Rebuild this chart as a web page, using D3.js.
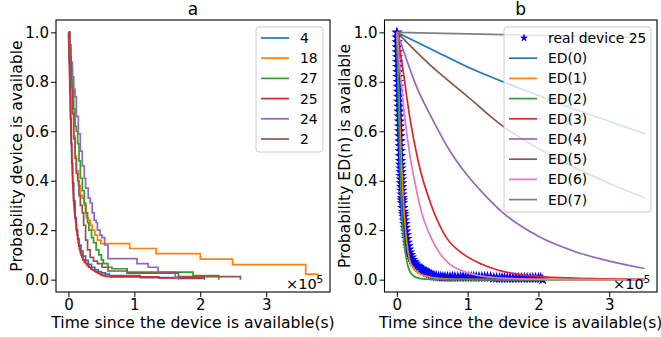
<!DOCTYPE html>
<html>
<head>
<meta charset="utf-8">
<script src="https://cdnjs.cloudflare.com/ajax/libs/d3/7.8.5/d3.min.js"></script>
<style>
  body { margin: 0; background: #fff; }
  svg { font-family: "DejaVu Sans", sans-serif; }
</style>
</head>
<body>
<div id="chart"></div>
<script>
// ---- data (time in units of 1e5 s, probability) ----
const xTicks = [0, 1, 2, 3];
const yTicks = [0, 0.2, 0.4, 0.6, 0.8, 1.0];

// panel a: empirical availability per device
const devicesA = ["4", "18", "27", "25", "24", "2"];

const dev4T = [0, 0.01, 0.02, 0.03, 0.04, 0.05, 0.065, 0.08, 0.1, 0.12, 0.14, 0.16, 0.19, 0.22, 0.26, 0.3, 0.35, 0.4, 0.45, 0.5, 0.56, 0.62, 1.09, 1.67, 2.03];
const dev4P = [1.0, 0.88, 0.76, 0.65, 0.55, 0.47, 0.39, 0.32, 0.25, 0.2, 0.165, 0.14, 0.115, 0.095, 0.078, 0.062, 0.05, 0.04, 0.033, 0.027, 0.022, 0.016, 0.008, 0.005, 0.005];

const dev18T = [0, 0.02, 0.04, 0.06, 0.08, 0.1, 0.12, 0.15, 0.18, 0.21, 0.24, 0.27, 0.3, 0.33, 0.36, 0.4, 0.44, 0.49, 0.93, 1.33, 2.0, 2.49, 3.6, 3.78];
const dev18P = [1.0, 0.92, 0.8, 0.68, 0.58, 0.5, 0.44, 0.38, 0.34, 0.33, 0.3, 0.25, 0.24, 0.22, 0.2, 0.18, 0.16, 0.146, 0.126, 0.105, 0.083, 0.061, 0.022, 0.0];

const dev27T = [0, 0.02, 0.04, 0.06, 0.08, 0.1, 0.12, 0.14, 0.16, 0.18, 0.21, 0.24, 0.26, 0.29, 0.31, 0.35, 0.38, 0.42, 0.46, 0.5, 0.53, 0.6, 0.66, 0.89, 1.89, 2.28];
const dev27P = [1.0, 0.93, 0.85, 0.77, 0.69, 0.62, 0.6, 0.55, 0.48, 0.41, 0.36, 0.31, 0.27, 0.23, 0.2, 0.17, 0.15, 0.12, 0.1, 0.08, 0.065, 0.05, 0.044, 0.03, 0.016, 0.0];

// device 25 is shared by both panels
const dev25T = [0, 0.002, 0.004, 0.006, 0.008, 0.01, 0.012, 0.014, 0.016, 0.018, 0.02, 0.022, 0.024, 0.026, 0.028, 0.03, 0.032, 0.034, 0.036, 0.038, 0.04,
  0.042, 0.044, 0.046, 0.048, 0.05, 0.052, 0.054, 0.056, 0.058, 0.06, 0.0625, 0.065, 0.0675, 0.07, 0.0725, 0.075, 0.0775, 0.08,
  0.085, 0.09, 0.095, 0.1, 0.106, 0.112, 0.118, 0.125, 0.132, 0.14, 0.148, 0.157, 0.167, 0.178, 0.19, 0.205, 0.22, 0.24, 0.26, 0.285, 0.31,
  0.34, 0.36, 0.38, 0.4, 0.42, 0.44, 0.46, 0.485, 0.51, 0.535, 0.56, 0.59, 0.62, 0.65, 0.68, 0.715, 0.75, 0.785, 0.82, 0.86, 0.9, 0.935, 0.97,
  1.01, 1.05, 1.085, 1.12, 1.16, 1.2, 1.24, 1.28, 1.325, 1.37, 1.41, 1.45, 1.485, 1.52, 1.56, 1.6, 1.64, 1.68, 1.72, 1.76, 1.8, 1.84, 1.88, 1.92, 1.96, 2.0, 2.03, 2.06];
const dev25P = [1.0, 0.98, 0.96, 0.94, 0.92, 0.9, 0.88, 0.86, 0.84, 0.82, 0.8, 0.78, 0.76, 0.74, 0.72, 0.7, 0.68, 0.66, 0.64, 0.62, 0.6,
  0.58, 0.56, 0.54, 0.52, 0.5, 0.48, 0.465, 0.45, 0.435, 0.42, 0.405, 0.39, 0.375, 0.36, 0.345, 0.33, 0.32, 0.31,
  0.29, 0.275, 0.265, 0.255, 0.24, 0.225, 0.21, 0.195, 0.18, 0.165, 0.15, 0.135, 0.122, 0.11, 0.1, 0.09, 0.08, 0.072, 0.065, 0.057, 0.05,
  0.043, 0.04, 0.037, 0.033, 0.03, 0.027, 0.024, 0.02, 0.017, 0.015, 0.013, 0.012, 0.012, 0.011, 0.011, 0.011, 0.011, 0.011, 0.011, 0.011, 0.011, 0.011, 0.011,
  0.011, 0.011, 0.011, 0.011, 0.011, 0.011, 0.011, 0.011, 0.011, 0.007, 0.007, 0.007, 0.007, 0.007, 0.007, 0.007, 0.007, 0.007, 0.007, 0.007, 0.007, 0.007, 0.007, 0.007, 0.007, 0.007, 0.007, 0.0];

const dev24T = [0, 0.02, 0.04, 0.06, 0.08, 0.1, 0.12, 0.15, 0.18, 0.21, 0.24, 0.26, 0.3, 0.33, 0.36, 0.39, 0.42, 0.44, 0.48, 0.51, 0.55, 0.6, 1.04, 1.21, 1.36, 1.62, 1.67];
const dev24P = [1.0, 0.95, 0.88, 0.82, 0.77, 0.74, 0.66, 0.59, 0.52, 0.46, 0.41, 0.37, 0.33, 0.31, 0.27, 0.24, 0.23, 0.2, 0.18, 0.17, 0.14, 0.085, 0.065, 0.05, 0.03, 0.01, 0.0];

const dev2T = [0, 0.02, 0.04, 0.06, 0.08, 0.1, 0.12, 0.14, 0.16, 0.18, 0.21, 0.23, 0.26, 0.29, 0.33, 0.38, 0.44, 0.51, 0.6, 0.89, 1.67, 2.61];
const dev2P = [1.0, 0.9, 0.78, 0.67, 0.57, 0.49, 0.43, 0.4, 0.34, 0.3, 0.27, 0.22, 0.16, 0.12, 0.09, 0.075, 0.065, 0.05, 0.035, 0.026, 0.012, 0.0];

// panel b: ED(n) model curves
const modelsB = ["ED(0)", "ED(1)", "ED(2)", "ED(3)", "ED(4)", "ED(5)", "ED(6)", "ED(7)"];
const ed0T = [0, 0.5, 1, 1.5, 2, 2.5, 3, 3.5];
const ed0P = [1, 0.93, 0.86, 0.8, 0.745, 0.69, 0.64, 0.59];
const ed1T = [0, 0.02, 0.04, 0.06, 0.08, 0.11, 0.14, 0.18, 0.24, 0.3, 0.4, 0.51, 0.7, 1, 2, 3.5];
const ed1P = [1, 0.82, 0.64, 0.5, 0.38, 0.24, 0.15, 0.08, 0.045, 0.028, 0.015, 0.008, 0.003, 0.001, 0, 0];
const ed2T = [0, 0.015, 0.03, 0.045, 0.066, 0.1, 0.13, 0.16, 0.2, 0.28, 0.4, 0.6, 1, 2, 3.5];
const ed2P = [1, 0.8, 0.62, 0.47, 0.29, 0.16, 0.09, 0.05, 0.025, 0.008, 0.002, 0, 0, 0, 0];
const ed3T = [0, 0.07, 0.18, 0.3, 0.5, 0.7, 0.93, 1.2, 1.41, 1.7, 2.02, 2.5, 3, 3.5];
const ed3P = [1, 0.88, 0.66, 0.48, 0.29, 0.17, 0.105, 0.062, 0.04, 0.022, 0.012, 0.006, 0.003, 0.001];
const ed4T = [0, 0.1, 0.25, 0.5, 0.75, 1, 1.25, 1.5, 2, 2.5, 3, 3.5];
const ed4P = [1, 0.92, 0.8, 0.65, 0.52, 0.42, 0.34, 0.27, 0.175, 0.115, 0.075, 0.045];
const ed5T = [0, 0.5, 1, 1.5, 2, 2.5, 3, 3.5];
const ed5P = [1, 0.86, 0.74, 0.62, 0.53, 0.455, 0.39, 0.33];
const ed6T = [0, 0.05, 0.11, 0.18, 0.25, 0.35, 0.45, 0.61, 0.75, 0.93, 1.2, 1.41, 2, 2.5, 3.5];
const ed6P = [1, 0.83, 0.66, 0.51, 0.4, 0.27, 0.19, 0.105, 0.062, 0.035, 0.014, 0.008, 0.002, 0.001, 0];
const ed7T = [0, 1, 2, 3, 3.5];
const ed7P = [1, 0.994, 0.988, 0.982, 0.979];

// ---- styles ----
const tab10 = ["#1f77b4", "#ff7f0e", "#2ca02c", "#d62728", "#9467bd", "#8c564b", "#e377c2", "#7f7f7f"];
const tickFont = 15;
const labelFont = 15.6;
const legendFont = 13.9;

const zip = (t, p) => t.map((d, i) => ({ t: d, p: p[i] }));

const svg = d3.select("#chart").append("svg")
    .attr("width", 661)
    .attr("height", 337);

function drawPanel(cfg) {
    const top = 20, bottom = 292;
    const x = d3.scaleLinear().domain(cfg.xDomain).range([cfg.left, cfg.right]);
    const y = d3.scaleLinear().domain([-0.05, 1.05]).range([bottom, top]);

    const g = svg.append("g");

    svg.append("clipPath").attr("id", "clip-" + cfg.id)
        .append("rect")
        .attr("x", cfg.left).attr("y", top)
        .attr("width", cfg.right - cfg.left).attr("height", bottom - top);

    const plot = g.append("g").attr("clip-path", `url(#clip-${cfg.id})`);

    // star markers
    if (cfg.stars) {
        plot.selectAll(".star")
            .data(cfg.stars)
            .enter().append("path")
            .attr("class", "star")
            .attr("transform", d => `translate(${x(d.t)},${y(d.p)})`)
            .attr("d", d3.symbol().type(d3.symbolStar).size(20))
            .attr("fill", "#0000ff")
            .attr("stroke", "#0000ff")
            .attr("stroke-width", 1.2);
    }

    cfg.series.forEach((s, i) => {
        const line = d3.line()
            .x(d => x(d.t))
            .y(d => y(d.p))
            .curve(cfg.step ? d3.curveStepAfter : d3.curveMonotoneX);
        plot.append("path")
            .datum(s)
            .attr("d", line)
            .attr("fill", "none")
            .attr("stroke", tab10[i])
            .attr("stroke-width", 1.7);
    });

    // axes
    const xAxis = g.append("g")
        .attr("transform", `translate(0,${bottom})`)
        .call(d3.axisBottom(x).tickValues(xTicks).tickFormat(d3.format("d")).tickSize(5).tickPadding(2));
    const yAxis = g.append("g")
        .attr("transform", `translate(${cfg.left},0)`)
        .call(d3.axisLeft(y).tickValues(yTicks).tickFormat(d3.format(".1f")).tickSize(5).tickPadding(2));
    [xAxis, yAxis].forEach(a => {
        a.select(".domain").remove();
        a.attr("font-size", tickFont).attr("font-family", "DejaVu Sans");
        a.selectAll("line").attr("stroke", "#000").attr("stroke-width", 1);
        a.selectAll("text").attr("fill", "#000");
    });

    // frame
    g.append("rect")
        .attr("x", cfg.left).attr("y", top)
        .attr("width", cfg.right - cfg.left).attr("height", bottom - top)
        .attr("fill", "none")
        .attr("stroke", "#000")
        .attr("stroke-width", 1.1);

    // scale offset text
    const off = g.append("text")
        .attr("x", cfg.right - 7)
        .attr("y", bottom - 3)
        .attr("text-anchor", "end")
        .style("font-size", "14.5px");
    off.append("tspan").text("×10");
    off.append("tspan").attr("dy", -6).style("font-size", "10px").text("5");

    // title and labels
    const cx = (cfg.left + cfg.right) / 2;
    g.append("text")
        .attr("x", cx).attr("y", 15)
        .attr("text-anchor", "middle")
        .style("font-size", "17px")
        .text(cfg.title);

    g.append("text")
        .attr("x", cx).attr("y", 328)
        .attr("text-anchor", "middle")
        .style("font-size", labelFont + "px")
        .text("Time since the device is available(s)");

    g.append("text")
        .attr("transform", `translate(${cfg.ylabelX},${(top + bottom) / 2}) rotate(-90)`)
        .attr("text-anchor", "middle")
        .style("font-size", labelFont + "px")
        .text(cfg.ylabel);

    // legend
    const L = cfg.legend;
    const leg = g.append("g");
    leg.append("rect")
        .attr("x", L.x).attr("y", L.y)
        .attr("width", L.w).attr("height", L.h)
        .attr("rx", 3)
        .attr("fill", "#fff").attr("fill-opacity", 0.8)
        .attr("stroke", "#cccccc").attr("stroke-width", 1);

    L.items.forEach((it, i) => {
        const ly = L.y + 11 + i * 20.2;
        if (it.star) {
            leg.append("path")
                .attr("transform", `translate(${L.x + 20},${ly})`)
                .attr("d", d3.symbol().type(d3.symbolStar).size(13))
                .attr("fill", "#0000ff")
                .attr("stroke", "#0000ff")
                .attr("stroke-width", 0.8);
        } else {
            leg.append("line")
                .attr("x1", L.x + 5).attr("x2", L.x + 33)
                .attr("y1", ly).attr("y2", ly)
                .attr("stroke", it.color)
                .attr("stroke-width", 1.7);
        }
        leg.append("text")
            .attr("x", L.x + 44).attr("y", ly)
            .attr("dy", "0.36em")
            .style("font-size", legendFont + "px")
            .text(it.label);
    });
}

drawPanel({
    id: "a",
    title: "a",
    left: 56, right: 330,
    xDomain: [-0.189, 3.969],
    step: true,
    ylabelX: 22,
    ylabel: "Probability device is available",
    series: [zip(dev4T, dev4P), zip(dev18T, dev18P), zip(dev27T, dev27P),
             zip(dev25T, dev25P), zip(dev24T, dev24P), zip(dev2T, dev2P)],
    legend: {
        x: 256, y: 27, w: 67, h: 125,
        items: devicesA.map((d, i) => ({ label: d, color: tab10[i] }))
    }
});

drawPanel({
    id: "b",
    title: "b",
    left: 384.5, right: 657,
    xDomain: [-0.175, 3.675],
    step: false,
    ylabelX: 350,
    ylabel: "Probability ED(n) is available",
    stars: zip(dev25T, dev25P),
    series: [zip(ed0T, ed0P), zip(ed1T, ed1P), zip(ed2T, ed2P), zip(ed3T, ed3P),
             zip(ed4T, ed4P), zip(ed5T, ed5P), zip(ed6T, ed6P), zip(ed7T, ed7P)],
    legend: {
        x: 504, y: 27, w: 147, h: 185,
        items: [{ label: "real device 25", star: true }]
            .concat(modelsB.map((d, i) => ({ label: d, color: tab10[i] })))
    }
});
</script>
</body>
</html>
